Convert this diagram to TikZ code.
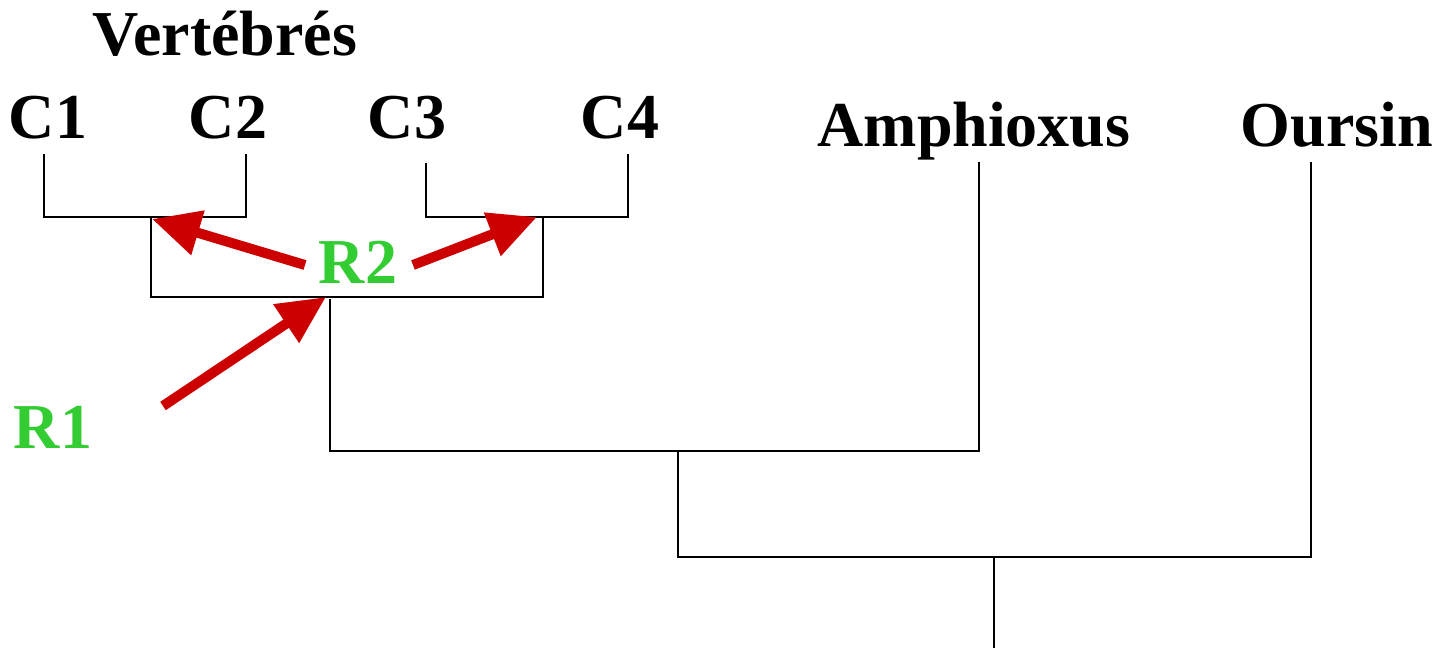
\documentclass[tikz,border=0pt]{standalone}
\usepackage{fontspec}
\setmainfont{Liberation Serif}
\usetikzlibrary{arrows.meta}
\definecolor{arrowred}{HTML}{CC0000}
\definecolor{labgreen}{HTML}{33CC33}
\begin{document}
\begin{tikzpicture}[x=1pt,y=-1pt,
  lab/.style={anchor=base,inner sep=0pt,font=\fontsize{64}{70}\selectfont\bfseries},
  glab/.style={lab,text=labgreen},
  branch/.style={line width=2pt,line cap=rect},
  bigarrow/.style={line width=10pt,draw=arrowred,-{Triangle[length=48pt,width=44pt]}}]
\useasboundingbox (0,0) rectangle (1445,649);
% labels
\node[lab] (vert) at (225,55) {Vertébrés};
\node[lab] (c1) at (48,138) {C1};
\node[lab] (c2) at (228,138) {C2};
\node[lab] (c3) at (407,138) {C3};
\node[lab] (c4) at (620,138) {C4};
\node[lab] (amph) at (974,146) {Amphioxus};
\node[lab] (ours) at (1337,146) {Oursin};
\node[glab] (r2) at (358,283) {R2};
\node[glab] (r1) at (53,448) {R1};
% tree coordinates
\coordinate (t1) at (44,155);
\coordinate (t2) at (246,155);
\coordinate (t3) at (426,164);
\coordinate (t4) at (628,155);
\coordinate (ta) at (979,163);
\coordinate (to) at (1311,163);
\coordinate (n12) at (151,217);
\coordinate (n34) at (543,217);
\coordinate (nv) at (330,297);
\coordinate (nva) at (678,451);
\coordinate (nroot) at (994,557);
\coordinate (root) at (994,647);
% tree
\draw[branch] (t1) -- (t1|-n12) -- (t2|-n12) -- (t2);
\draw[branch] (t3) -- (t3|-n34) -- (t4|-n34) -- (t4);
\draw[branch] (n12) -- (n12|-nv) -- (n34|-nv) -- (n34);
\draw[branch] (nv) ++(0,3) -- (nv|-nva) -- (ta|-nva) -- (ta);
\draw[branch] (nva) -- (nva|-nroot) -- (to|-nroot) -- (to);
\draw[branch] (nroot) -- (root);
% arrows
\coordinate (a1s) at (305,265);
\coordinate (a1e) at (152,219);
\coordinate (a2s) at (413,265);
\coordinate (a2e) at (537,217);
\coordinate (a3s) at (163,406);
\coordinate (a3e) at (326,297);
\draw[bigarrow] (a1s) -- (a1e);
\draw[bigarrow] (a2s) -- (a2e);
\draw[bigarrow] (a3s) -- (a3e);
\end{tikzpicture}
\end{document}
